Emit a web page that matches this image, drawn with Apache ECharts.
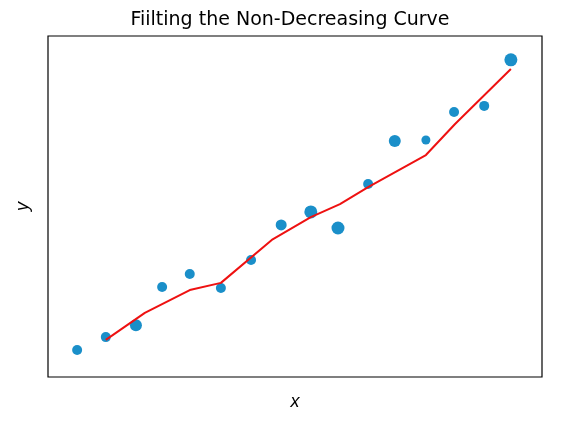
<!DOCTYPE html><html><head><meta charset="utf-8"><script src="https://cdn.jsdelivr.net/npm/echarts@6/dist/echarts.min.js"></script></head><body style="margin:0"><div id="c" style="width:580px;height:428px"></div><script>
const ptX=[.059,.117,.178,.231,.287,.350,.411,.472,.532,.587,.648,.702,.765,.822,.883,.937];
const ptY=[.079,.117,.152,.264,.302,.261,.343,.446,.484,.437,.566,.692,.695,.777,.795,.930];
const ptSize=[10,10,12,10,10,10,10,11,13,13,10,12,9,10,10,13];
const lineX=[.117,.196,.287,.350,.453,.532,.591,.648,.765,.824,.937];
const lineY=[.109,.188,.255,.276,.402,.469,.507,.557,.651,.742,.903];
const ch=echarts.init(document.getElementById('c'));
ch.setOption({animation:false,
title:{text:'Fiilting the Non-Decreasing Curve',left:'center',top:6,textStyle:{fontFamily:'DejaVu Sans',fontWeight:'normal',fontSize:19,color:'#000'}},
grid:{left:48,right:38,top:36,bottom:51,show:true,borderColor:'#000',borderWidth:1.2},
xAxis:{type:'value',min:0,max:1,name:'x',nameLocation:'middle',nameGap:16,nameTextStyle:{fontSize:18,fontStyle:'italic',color:'#000'},axisLine:{show:false},axisTick:{show:false},axisLabel:{show:false},splitLine:{show:false}},
yAxis:{type:'value',min:0,max:1,name:'y',nameLocation:'middle',nameGap:16,nameTextStyle:{fontSize:18,fontStyle:'italic',color:'#000'},axisLine:{show:false},axisTick:{show:false},axisLabel:{show:false},splitLine:{show:false}},
series:[
{type:'line',data:lineX.map((x,i)=>[x,lineY[i]]),showSymbol:false,lineStyle:{color:'#ee1111',width:2},z:3},
{type:'scatter',data:ptX.map((x,i)=>[x,ptY[i],ptSize[i]]),symbolSize:d=>d[2],itemStyle:{color:'#1a8fc9',opacity:1},z:2}
]});
</script></body></html>
